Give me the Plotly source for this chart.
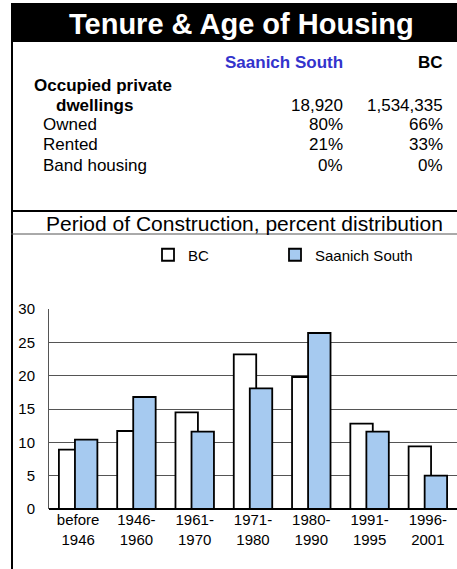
import plotly.graph_objects as go

# period of construction, percent distribution
periods = ["before<br>1946", "1946-<br>1960", "1961-<br>1970", "1971-<br>1980",
           "1980-<br>1990", "1991-<br>1995", "1996-<br>2001"]
bc_pct = [8.9, 11.7, 14.5, 23.2, 19.8, 12.8, 9.4]
saanich_pct = [10.4, 16.8, 11.6, 18.1, 26.4, 11.6, 5.0]

# tenure table
tenure_rows = ["Owned", "Rented", "Band housing"]
tenure_saanich = ["80%", "21%", "0%"]
tenure_bc = ["66%", "33%", "0%"]
dwellings_saanich = "18,920"
dwellings_bc = "1,534,335"

W, H = 457, 569
L, R, T, B = 49, 457, 309, 509  # plot area in pixels
FONT = "Liberation Sans, Arial, sans-serif"
BLUE_FILL = "#A6CAF0"


def px_x(x):
    return (x - L) / (R - L)


def px_y(y):
    return (B - y) / (B - T)


fig = go.Figure()
fig.add_trace(go.Bar(x=periods, y=bc_pct, name="BC", legend="legend", showlegend=True,
                     marker=dict(color="white", line=dict(color="black", width=1.8)),
                     width=0.385, offset=-0.33))
fig.add_trace(go.Bar(x=periods, y=saanich_pct, name="Saanich South", legend="legend2",
                     showlegend=True,
                     marker=dict(color=BLUE_FILL, line=dict(color="black", width=1.8)),
                     width=0.385, offset=-0.055))

shapes = []
# title band
shapes.append(dict(type="rect", xref="paper", yref="paper", x0=px_x(11), x1=px_x(460),
                   y0=px_y(3), y1=px_y(42), fillcolor="black", line=dict(width=0), layer="below"))
# left border of the box
shapes.append(dict(type="line", xref="paper", yref="paper", x0=px_x(12), x1=px_x(12),
                   y0=px_y(42), y1=px_y(572), line=dict(color="black", width=2)))
# line under tenure table
shapes.append(dict(type="line", xref="paper", yref="paper", x0=px_x(11), x1=px_x(460),
                   y0=px_y(211), y1=px_y(211), line=dict(color="black", width=2)))
# line under subtitle
shapes.append(dict(type="line", xref="paper", yref="paper", x0=px_x(11), x1=px_x(460),
                   y0=px_y(234), y1=px_y(234), line=dict(color="#555555", width=1)))

ann = []


def txt(s, x, y, anchor="left", size=17, bold=False, color="black"):
    if bold:
        s = "<b>" + s + "</b>"
    ann.append(dict(text=s, x=px_x(x), y=px_y(y), xref="paper", yref="paper",
                    xanchor=anchor, yanchor="middle", showarrow=False,
                    font=dict(family=FONT, size=size, color=color)))


txt("Tenure & Age of Housing", 241, 24, anchor="center", size=29, bold=True, color="white")
txt("Saanich South", 345, 62, anchor="right", bold=True, color="#3333CC")
txt("BC", 445, 62, anchor="right", bold=True)
txt("Occupied private", 32, 86, bold=True)
txt("dwellings", 94, 105, anchor="center", bold=True)
txt(dwellings_saanich, 345, 105, anchor="right")
txt(dwellings_bc, 445, 105, anchor="right")
for i, row in enumerate(tenure_rows):
    yy = [124, 144, 165][i]
    txt(row, 41, yy)
    txt(tenure_saanich[i], 345, yy, anchor="right")
    txt(tenure_bc[i], 445, yy, anchor="right")
txt("Period of Construction, percent distribution", 244, 223, anchor="center", size=21)

leg_common = dict(orientation="h", xanchor="left", yanchor="middle", visible=True,
                  font=dict(size=15), bgcolor="rgba(0,0,0,0)")
fig.update_layout(
    width=W, height=H,
    margin=dict(l=L, r=W - R, t=T, b=H - B, autoexpand=False),
    paper_bgcolor="white", plot_bgcolor="white",
    barmode="overlay", showlegend=True,
    font=dict(family=FONT, size=15, color="black"),
    shapes=shapes, annotations=ann,
    legend=dict(x=px_x(148), y=px_y(255), **leg_common),
    legend2=dict(x=px_x(275), y=px_y(255), **leg_common),
)
fig.update_xaxes(showgrid=False, showline=False, ticks="", tickfont=dict(size=15),
                 automargin=False)
fig.update_yaxes(range=[0, 30], dtick=5, showgrid=True, gridcolor="#555555", gridwidth=1,
                 showline=True, linecolor="#555555", linewidth=1,
                 zeroline=True, zerolinecolor="black", zerolinewidth=1.5,
                 ticks="", ticklabelstandoff=10, tickfont=dict(size=15), automargin=False)

# page has a default 8px body margin; drop it so the figure sits at 0,0
fig.write_html("out.html", config={"displayModeBar": False},
               post_script="document.body.style.margin='0';document.body.style.overflow='hidden';")
